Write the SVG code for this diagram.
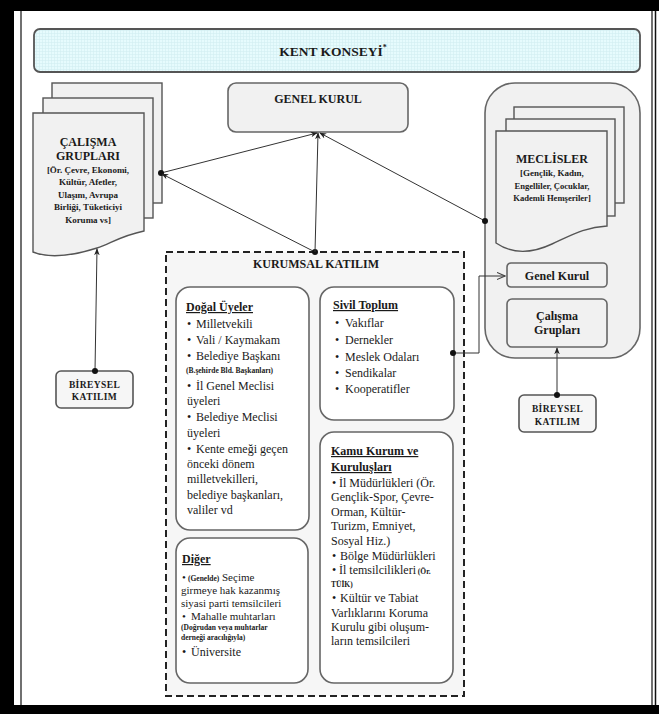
<svg xmlns="http://www.w3.org/2000/svg" width="659" height="714" viewBox="0 0 659 714">
<defs>
<pattern id="grid" width="3" height="3" patternUnits="userSpaceOnUse">
<rect width="3" height="3" fill="#e6fbfd"/>
<path d="M0 0.5H3M0.5 0V3" stroke="#d2eef2" stroke-width="0.6"/>
</pattern>
<marker id="arr" viewBox="0 0 10 10" refX="9" refY="5" markerWidth="7" markerHeight="7" orient="auto-start-reverse" markerUnits="userSpaceOnUse">
<path d="M0,1 L10,5 L0,9 L3,5 Z" fill="#222"/>
</marker>
<marker id="open" viewBox="0 0 10 10" refX="9" refY="5" markerWidth="9" markerHeight="9" orient="auto" markerUnits="userSpaceOnUse">
<path d="M0,1 L9,5 L0,9" fill="none" stroke="#444" stroke-width="1.2"/>
</marker>
<marker id="dot" viewBox="0 0 10 10" refX="5" refY="5" markerWidth="6" markerHeight="6" markerUnits="userSpaceOnUse">
<circle cx="5" cy="5" r="5" fill="#111"/>
</marker>
</defs>
<style>
text { font-family: "Liberation Serif", "Times New Roman", serif; fill: #1a1a1a; }
.b { font-weight: bold; }
.c { text-anchor: middle; }
.h12 { font-size: 12px; }
.h11 { font-size: 11px; }
.s9 { font-size: 9px; }
.s7 { font-size: 7.5px; }
.u { text-decoration: underline; }
.box { fill: #ffffff; stroke: #666; stroke-width: 1.6; }
.gray { fill: #f1f1f1; stroke: #666; stroke-width: 1.6; }
.sheet { fill: #f1f1f1; stroke: #555; stroke-width: 1.4; }
.ln { fill: none; stroke: #333; stroke-width: 1; }
</style>

<!-- frame -->
<rect x="0" y="0" width="659" height="714" fill="#ffffff"/>
<rect x="0" y="0" width="14" height="714" fill="#000"/>
<rect x="0" y="0" width="659" height="11" fill="#000"/>
<rect x="0" y="705" width="659" height="9" fill="#000"/>
<line x1="21" y1="11" x2="21" y2="705" stroke="#111" stroke-width="1.2"/>
<line x1="652" y1="11" x2="652" y2="705" stroke="#111" stroke-width="1.2"/>
<line x1="655.5" y1="11" x2="655.5" y2="705" stroke="#111" stroke-width="1.5"/>

<g id="kent-konseyi">
<rect x="34" y="29" width="606" height="43" rx="6" fill="url(#grid)" stroke="#555" stroke-width="1.8"/>
<text x="333" y="56" class="b c" font-size="13.5px">KENT KONSEYİ<tspan font-size="8px" dy="-6">*</tspan></text>
</g>

<g id="genel-kurul">
<rect x="228" y="83" width="180" height="49" rx="8" class="gray"/>
<text x="318" y="103" class="b c h12">GENEL KURUL</text>
</g>

<g id="calisma-gruplari">
<rect x="52" y="83" width="110" height="120" class="sheet"/>
<rect x="43" y="98" width="110" height="120" class="sheet"/>
<path d="M33,113 H144 V231 C120,236 110,244 97,248 C75,255 50,259 33,252 Z" class="sheet"/>
<text x="88" y="146" class="b c h12">ÇALIŞMA</text>
<text x="88" y="160" class="b c h12">GRUPLARI</text>
<text x="88" y="172.5" class="b c s9">[Ör. Çevre, Ekonomi,</text>
<text x="88" y="185" class="b c s9">Kültür, Afetler,</text>
<text x="88" y="197.5" class="b c s9">Ulaşım, Avrupa</text>
<text x="88" y="210" class="b c s9">Birliği, Tüketiciyi</text>
<text x="88" y="223" class="b c s9">Koruma vs]</text>
</g>

<g id="meclisler-panel">
<rect x="485" y="83" width="155" height="275" rx="30" class="gray"/>
</g>

<g id="meclisler">
<rect x="514" y="107" width="110" height="96" class="sheet"/>
<rect x="506" y="119" width="109" height="97" class="sheet"/>
<path d="M496,131 H607 V226 C585,227 570,236 552,244 C535,252 515,256 496,243 Z" class="sheet"/>
<text x="552" y="163" class="b c h12">MECLİSLER</text>
<text x="552" y="176" class="b c s9">[Gençlik, Kadın,</text>
<text x="552" y="189" class="b c" font-size="8.6px">Engelliler, Çocuklar,</text>
<text x="552" y="201" class="b c" font-size="8.6px">Kademli Hemşeriler]</text>
</g>

<g id="meclis-genel-kurul">
<rect x="507" y="263" width="100" height="24" rx="4" class="gray"/>
<text x="557" y="280" class="b c h12">Genel Kurul</text>
</g>

<g id="meclis-calisma-gruplari">
<rect x="507" y="299" width="100" height="48" rx="5" class="gray"/>
<text x="557" y="320" class="b c h12">Çalışma</text>
<text x="557" y="334" class="b c h12">Grupları</text>
</g>

<g id="bireysel-katilim-sol">
<rect x="56" y="371" width="77" height="37" rx="5" fill="#f6f6f6" stroke="#555" stroke-width="1.6"/>
<text x="94.5" y="387.5" class="b c" font-size="9.5px" letter-spacing="0.4">BİREYSEL</text>
<text x="94.5" y="399.5" class="b c" font-size="9.5px" letter-spacing="0.4">KATILIM</text>
</g>

<g id="bireysel-katilim-sag">
<rect x="519" y="395" width="77" height="37" rx="5" fill="#f6f6f6" stroke="#555" stroke-width="1.6"/>
<text x="557.5" y="411.5" class="b c" font-size="9.5px" letter-spacing="0.4">BİREYSEL</text>
<text x="557.5" y="425" class="b c" font-size="9.5px" letter-spacing="0.4">KATILIM</text>
</g>

<g id="kurumsal-katilim">
<rect x="166" y="252" width="298" height="444" fill="#f6f6f6" stroke="#222" stroke-width="2" stroke-dasharray="7 4"/>
<text x="316" y="268" class="b c h12">KURUMSAL KATILIM</text>
</g>

<g id="dogal-uyeler">
<rect x="176" y="287" width="133" height="243" rx="14" class="box"/>
<text x="186" y="311" class="b h12 u">Doğal Üyeler</text>
<text class="h12" y="328"><tspan x="187">•</tspan><tspan x="196">Milletvekili</tspan></text>
<text class="h12" y="344"><tspan x="187">•</tspan><tspan x="196">Vali / Kaymakam</tspan></text>
<text class="h12" y="360"><tspan x="187">•</tspan><tspan x="196">Belediye Başkanı</tspan></text>
<text x="186" y="373" class="b s7">(B.şehirde Bld. Başkanları)</text>
<text class="h12" y="390"><tspan x="187">•</tspan><tspan x="196">İl Genel Meclisi</tspan></text>
<text x="187" y="405" class="h12">üyeleri</text>
<text class="h12" y="421"><tspan x="187">•</tspan><tspan x="196">Belediye Meclisi</tspan></text>
<text x="187" y="437" class="h12">üyeleri</text>
<text class="h12" y="453"><tspan x="187">•</tspan><tspan x="196">Kente emeği geçen</tspan></text>
<text x="187" y="468" class="h12">önceki dönem</text>
<text x="187" y="483" class="h12">milletvekilleri,</text>
<text x="187" y="499" class="h12">belediye başkanları,</text>
<text x="187" y="514" class="h12">valiler vd</text>
</g>

<g id="diger">
<rect x="176" y="538" width="132" height="145" rx="14" class="box"/>
<text x="182" y="563" class="b h12 u">Diğer</text>
<text y="581"><tspan x="182" class="h11">•</tspan><tspan x="188" class="s7 b">(Genelde)</tspan><tspan class="h11"> Seçime</tspan></text>
<text x="181" y="594" class="h11">girmeye hak kazanmış</text>
<text x="181" y="607" class="h11">siyasi parti temsilcileri</text>
<text class="h11" y="620"><tspan x="182">•</tspan><tspan x="191">Mahalle muhtarları</tspan></text>
<text x="181" y="630" class="s7 b">(Doğrudan veya muhtarlar</text>
<text x="181" y="640" class="s7 b">derneği aracılığıyla)</text>
<text class="h12" y="656"><tspan x="182">•</tspan><tspan x="191">Üniversite</tspan></text>
</g>

<g id="sivil-toplum">
<rect x="320" y="287" width="134" height="133" rx="14" class="box"/>
<text x="333" y="309" class="b h12 u">Sivil Toplum</text>
<text class="h12" y="327"><tspan x="335">•</tspan><tspan x="345">Vakıflar</tspan></text>
<text class="h12" y="344"><tspan x="335">•</tspan><tspan x="345">Dernekler</tspan></text>
<text class="h12" y="361"><tspan x="335">•</tspan><tspan x="345">Meslek Odaları</tspan></text>
<text class="h12" y="377"><tspan x="335">•</tspan><tspan x="345">Sendikalar</tspan></text>
<text class="h12" y="393"><tspan x="335">•</tspan><tspan x="345">Kooperatifler</tspan></text>
</g>

<g id="kamu-kurum">
<rect x="320" y="432" width="133" height="251" rx="14" class="box"/>
<text x="331" y="455" class="b h12 u">Kamu Kurum ve</text>
<text x="331" y="471" class="b h12 u">Kuruluşları</text>
<text class="h12" y="487"><tspan x="332">•</tspan><tspan x="339">İl Müdürlükleri (Ör.</tspan></text>
<text x="331" y="501" class="h12">Gençlik-Spor, Çevre-</text>
<text x="331" y="516" class="h12">Orman, Kültür-</text>
<text x="331" y="530" class="h12">Turizm, Emniyet,</text>
<text x="331" y="545" class="h12">Sosyal Hiz.)</text>
<text class="h12" y="560"><tspan x="332">•</tspan><tspan x="340">Bölge Müdürlükleri</tspan></text>
<text class="h12" y="574"><tspan x="332">•</tspan><tspan x="339">İl temsilcilikleri</tspan><tspan class="s7 b"> (Ör.</tspan></text>
<text x="331" y="587" class="s7 b">TÜİK)</text>
<text class="h12" y="602"><tspan x="332">•</tspan><tspan x="340">Kültür ve Tabiat</tspan></text>
<text x="331" y="617" class="h12">Varlıklarını Koruma</text>
<text x="331" y="631" class="h12">Kurulu gibi oluşum-</text>
<text x="331" y="645" class="h12">ların temsilcileri</text>
</g>

<g id="connectors">
<line x1="161" y1="173" x2="317" y2="133" class="ln" marker-start="url(#dot)" marker-end="url(#arr)"/>
<line x1="315" y1="252" x2="162" y2="174" class="ln" marker-start="url(#dot)" marker-end="url(#arr)"/>
<line x1="315" y1="252" x2="318" y2="133" class="ln" marker-end="url(#arr)"/>
<line x1="485" y1="221" x2="320" y2="133" class="ln" marker-start="url(#dot)" marker-end="url(#arr)"/>
<line x1="95" y1="371" x2="97" y2="249" class="ln" marker-start="url(#dot)" marker-end="url(#arr)"/>
<line x1="557" y1="395" x2="557" y2="348" class="ln" marker-start="url(#dot)" marker-end="url(#arr)"/>
<polyline points="453,353 479,353 479,276 505,276" class="ln" stroke="#444" marker-start="url(#dot)" marker-end="url(#open)"/>
</g>
</svg>
